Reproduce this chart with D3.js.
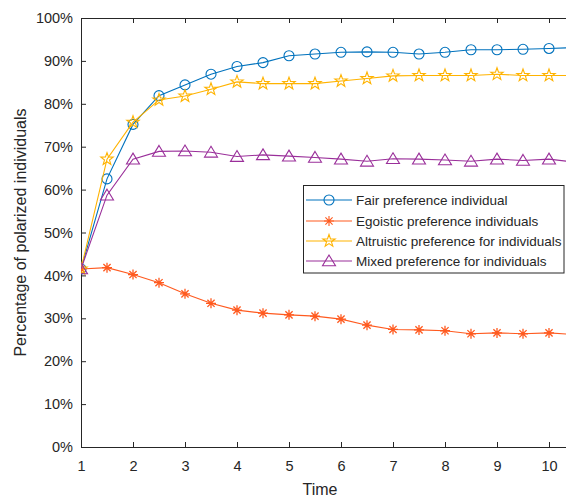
<!DOCTYPE html>
<html><head><meta charset="utf-8">
<script src="https://cdn.jsdelivr.net/npm/d3@7"></script>
<style>html,body{margin:0;padding:0;background:#fff;}svg{display:block;}</style>
</head><body>
<svg id="chart" width="566" height="499"></svg>
<script>
const times = [1,1.5,2,2.5,3,3.5,4,4.5,5,5.5,6,6.5,7,7.5,8,8.5,9,9.5,10,10.5];
const fair =       [41.5,62.5,75.2,81.9,84.4,86.9,88.7,89.6,91.2,91.6,92.0,92.1,92.0,91.6,92.0,92.6,92.6,92.7,92.9,93.1];
const egoistic =   [41.5,41.8,40.2,38.3,35.7,33.5,31.9,31.2,30.8,30.5,29.8,28.4,27.4,27.3,27.1,26.4,26.6,26.4,26.6,26.2];
const altruistic = [41.5,67.1,75.7,80.9,81.8,83.4,85.1,84.7,84.7,84.7,85.3,85.9,86.5,86.6,86.6,86.6,86.9,86.6,86.6,86.6];
const mixed =      [41.5,58.7,67.1,68.9,69.0,68.7,67.7,68.1,67.8,67.5,67.1,66.6,67.2,67.1,66.9,66.6,67.1,66.8,67.1,66.4];
const seriesNames = ["Fair preference individual","Egoistic preference individuals","Altruistic preference for individuals","Mixed preference for individuals"];
const xTicks = [1,2,3,4,5,6,7,8,9,10];
const yTicks = [0,10,20,30,40,50,60,70,80,90,100];

const colors = ["#0072BD","#FF5A1F","#FFB300","#9A2F9A"];
const markers = ["circle","asterisk","star","triangle"];
const seriesData = [fair, egoistic, altruistic, mixed];

const svg = d3.select("#chart");
const L = 81, R = 575, T = 18, B = 447;
const x = d3.scaleLinear().domain([1,10.5]).range([L,R]);
const y = d3.scaleLinear().domain([0,100]).range([B,T]);
const axisColor = "#262626";
const font = "'Liberation Sans', Arial, Helvetica, sans-serif";

svg.append("defs").append("clipPath").attr("id","plotclip")
  .append("rect").attr("x",L).attr("y",T).attr("width",R-L).attr("height",B-T);

const gx = svg.append("g").attr("transform",`translate(0,${B})`)
  .call(d3.axisBottom(x).tickValues(xTicks).tickSizeInner(-5).tickSizeOuter(0).tickPadding(14).tickFormat(d3.format("d")));
const gxTop = svg.append("g").attr("transform",`translate(0,${T})`)
  .call(d3.axisTop(x).tickValues(xTicks).tickSizeInner(-5).tickSizeOuter(0).tickFormat(""));
const gy = svg.append("g").attr("transform",`translate(${L},0)`)
  .call(d3.axisLeft(y).tickValues(yTicks).tickSizeInner(-5).tickSizeOuter(0).tickPadding(8).tickFormat(d => d + "%"));
[gx,gxTop,gy].forEach(g => {
  g.select(".domain").attr("stroke",axisColor).attr("stroke-width",1);
  g.selectAll(".tick line").attr("stroke",axisColor).attr("stroke-width",1);
  g.selectAll(".tick text").attr("fill",axisColor).style("font-family",font).style("font-size","14.5px");
});

function markerPath(type){
  if(type==="circle"){ return d3.symbol().type(d3.symbolCircle).size(Math.PI*5*5)(); }
  if(type==="asterisk"){
    const r=5, d=r*0.72;
    return `M${-r},0L${r},0M0,${-r}L0,${r}M${-d},${-d}L${d},${d}M${-d},${d}L${d},${-d}`;
  }
  if(type==="star"){
    const ro=6.5, ri=ro*0.40; let p="";
    for(let i=0;i<10;i++){
      const a = -Math.PI/2 + i*Math.PI/5;
      const rr = i%2===0?ro:ri;
      p += (i===0?"M":"L") + (rr*Math.cos(a)).toFixed(2) + "," + (rr*Math.sin(a)).toFixed(2);
    }
    return p+"Z";
  }
  if(type==="triangle"){ return "M0,-6L6.5,4.8L-6.5,4.8Z"; }
}

const line = d3.line().x((d,i)=>x(times[i])).y(d=>y(d));
const plot = svg.append("g").attr("clip-path","url(#plotclip)");
seriesData.forEach((s,k)=>{
  const g = plot.append("g");
  g.append("path").datum(s).attr("d",line).attr("fill","none").attr("stroke",colors[k]).attr("stroke-width",1.1);
  g.selectAll("path.m").data(s).enter().append("path").attr("class","m")
    .attr("d",markerPath(markers[k]))
    .attr("transform",(d,i)=>`translate(${x(times[i])},${y(d)})`)
    .attr("fill","none").attr("stroke",colors[k]).attr("stroke-width",markers[k]==="asterisk"?1.3:1.1);
});

svg.append("text").attr("x",(L+R)/2-8).attr("y",495).attr("text-anchor","middle")
  .attr("fill",axisColor).style("font-family",font).style("font-size","16px").text("Time");
svg.append("text").attr("transform",`translate(26,${(T+B)/2}) rotate(-90)`).attr("text-anchor","middle")
  .attr("fill",axisColor).style("font-family",font).style("font-size","16px").text("Percentage of polarized individuals");

const lg = svg.append("g");
lg.append("rect").attr("x",303.5).attr("y",185.5).attr("width",260.5).attr("height",87.5)
  .attr("fill","#fff").attr("stroke",axisColor).attr("stroke-width",1);
const rowY = [200,221,241,261];
seriesNames.forEach((name,k)=>{
  lg.append("line").attr("x1",306).attr("x2",352).attr("y1",rowY[k]).attr("y2",rowY[k])
    .attr("stroke",colors[k]).attr("stroke-width",1.1);
  lg.append("path").attr("d",markerPath(markers[k])).attr("transform",`translate(329,${rowY[k]})`)
    .attr("fill","none").attr("stroke",colors[k]).attr("stroke-width",1.1);
  lg.append("text").attr("x",356).attr("y",rowY[k]).attr("dy","0.35em")
    .attr("fill",axisColor).style("font-family",font).style("font-size","13.5px").text(name);
});
</script>
</body></html>
